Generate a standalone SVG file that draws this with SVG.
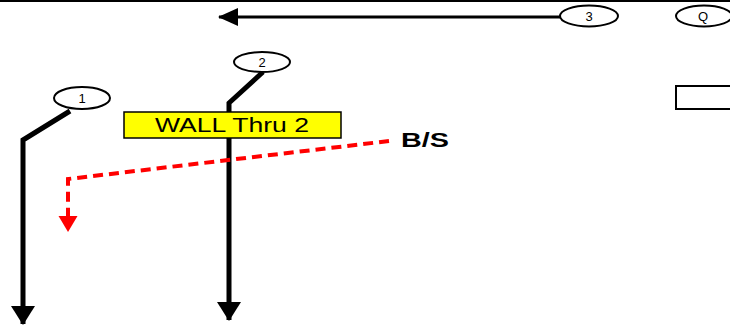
<svg xmlns="http://www.w3.org/2000/svg" width="730" height="332" viewBox="0 0 730 332">
<defs>
<style>
.node{fill:#fff;stroke:#000;stroke-width:2}
.lbl{font-family:"Liberation Sans",Arial,sans-serif;font-size:13px;fill:#000;text-anchor:middle}
.route{fill:none;stroke:#000;stroke-width:5;stroke-linejoin:miter}
.dash{fill:none;stroke:#ff0000;stroke-width:4;stroke-dasharray:10,6}
</style>
<marker id="ah" markerUnits="userSpaceOnUse" viewBox="0 0 19 24" markerWidth="19" markerHeight="24" refX="18" refY="12" orient="auto">
<path d="M0,0 L19,12 L0,24 Z" fill="#000"/>
</marker>
<marker id="ah3" markerUnits="userSpaceOnUse" viewBox="0 0 20 18" markerWidth="20" markerHeight="18" refX="19" refY="9" orient="auto">
<path d="M0,0 L20,9 L0,18 Z" fill="#000"/>
</marker>
</defs>
<rect width="730" height="332" fill="#fff"/>
<line x1="0" y1="1" x2="730" y2="1" stroke="#000" stroke-width="2"/>
<g id="connectors">
<path class="route" d="M70,111 L23,140 L23,324" marker-end="url(#ah)"/>
<path class="route" d="M263,72 L229,103 L229,320" marker-end="url(#ah)"/>
<path d="M560,17 L219,17" fill="none" stroke="#000" stroke-width="3" marker-end="url(#ah3)"/>
<path class="dash" d="M389,141 L68,179 L68,218"/>
<path d="M58.5,216 L77.5,216 L68,232 Z" fill="#ff0000"/>
</g>
<g id="wall">
<rect x="124" y="112" width="217" height="26" fill="#ffff00" stroke="#000" stroke-width="1.5"/>
<text x="155" y="132" font-family="Liberation Sans, Arial, sans-serif" font-size="20" textLength="154" lengthAdjust="spacingAndGlyphs">WALL Thru 2</text>
</g>
<g id="bs">
<text x="401" y="147" font-family="Liberation Sans, Arial, sans-serif" font-size="21" font-weight="bold" textLength="48" lengthAdjust="spacingAndGlyphs">B/S</text>
</g>
<g id="n1">
<ellipse class="node" cx="82" cy="98" rx="28" ry="11"/>
<text class="lbl" x="82" y="103">1</text>
</g>
<g id="n2">
<ellipse class="node" cx="262" cy="62" rx="28" ry="10"/>
<text class="lbl" x="262" y="67">2</text>
</g>
<g id="n3">
<ellipse class="node" cx="589" cy="16" rx="29" ry="10.5"/>
<text class="lbl" x="589" y="21">3</text>
</g>
<g id="q">
<ellipse class="node" cx="704" cy="16" rx="28" ry="10.5"/>
<text class="lbl" x="703" y="21">Q</text>
</g>
<g id="box">
<rect x="676" y="86" width="60" height="23" fill="#fff" stroke="#000" stroke-width="2"/>
</g>
</svg>
